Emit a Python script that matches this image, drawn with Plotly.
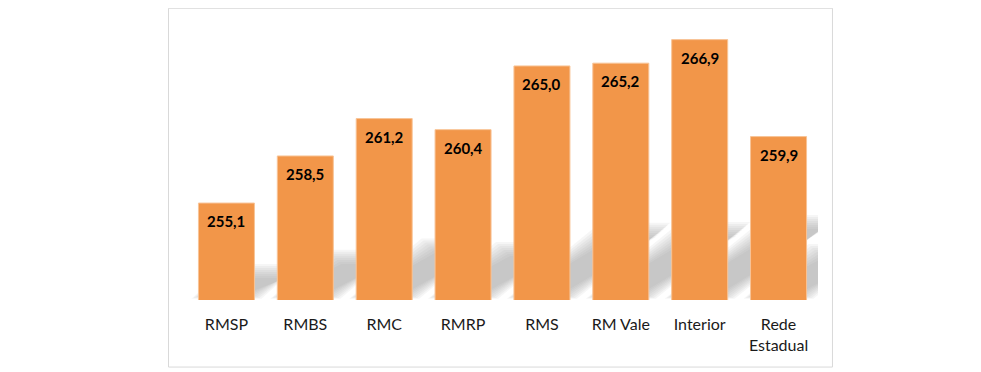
import plotly.graph_objects as go

categories = ["RMSP", "RMBS", "RMC", "RMRP", "RMS", "RM Vale", "Interior", "Rede Estadual"]
tick_labels = ["RMSP", "RMBS", "RMC", "RMRP", "RMS", "RM Vale", "Interior", "Rede<br>Estadual"]
values = [255.1, 258.5, 261.2, 260.4, 265.0, 265.2, 266.9, 259.9]
value_labels = ["255,1", "258,5", "261,2", "260,4", "265,0", "265,2", "266,9", "259,9"]

BAR_COLOR = "#F29649"
Y_MIN, Y_MAX = 248.1, 268.1

# page has an 8px body margin, so the figure is drawn 8px in from the window corner
PAGE_OFF = 8
W, H = 981 - PAGE_OFF, 372 - PAGE_OFF
M_L, M_R, M_T, M_B = 186.5 - PAGE_OFF, 162.5, 23.2 - PAGE_OFF, 72
plot_w = W - M_L - M_R
plot_h = H - M_T - M_B
px_per_cat = plot_w / len(categories)
px_per_unit = plot_h / (Y_MAX - Y_MIN)
bargap = 0.29
half_w = (1 - bargap) / 2

fig = go.Figure()
fig.add_trace(go.Bar(
    x=list(range(len(categories))), y=values,
    marker=dict(color=BAR_COLOR, line=dict(color="#F8C497", width=1)),
    hoverinfo="skip",
))

# soft perspective shadows behind bars
shapes = []
n_layers = 8
for i, v in enumerate(values):
    h_px = (v - Y_MIN) * px_per_unit
    dy_px = 0.30 * h_px
    dx_px = dy_px / 0.75
    for k in range(n_layers):
        e = -7 + 14 * k / (n_layers - 1)  # inflate in px
        xl = i - half_w - e / px_per_cat
        xr = i + half_w + e / px_per_cat
        yb = Y_MIN + (4 - e * 0.4) / px_per_unit
        yt = Y_MIN + (dy_px + e) / px_per_unit
        sh = dx_px / px_per_cat
        path = f"M {xl},{yb} L {xr},{yb} L {xr + sh},{yt} L {xl + sh},{yt} Z"
        shapes.append(dict(type="path", path=path, xref="x", yref="y",
                           fillcolor="rgba(150,150,150,0.085)", line=dict(width=0),
                           layer="below"))

# outer frame (page pixel coordinates -> paper)
box_x0 = (168 - PAGE_OFF - M_L) / plot_w
box_x1 = (833 - PAGE_OFF - M_L) / plot_w
box_y1 = (M_T + plot_h - 0.5) / plot_h
box_y0 = (M_T + plot_h - (367 - PAGE_OFF)) / plot_h
shapes.append(dict(type="rect", xref="paper", yref="paper",
                   x0=box_x0, x1=box_x1, y0=box_y0, y1=box_y1,
                   line=dict(color="#D9D9D9", width=1), fillcolor="rgba(0,0,0,0)",
                   layer="below"))

annotations = []
for i, (v, t) in enumerate(zip(values, value_labels)):
    annotations.append(dict(x=i, y=v, text=t, showarrow=False, yanchor="middle",
                            yshift=-18, font=dict(family="Lato", size=15, color="#000000",
                                                  weight="bold")))

fig.update_layout(
    width=W, height=H,
    margin=dict(l=M_L, r=M_R, t=M_T, b=M_B, pad=0),
    paper_bgcolor="white", plot_bgcolor="white",
    bargap=bargap,
    showlegend=False,
    shapes=shapes,
    annotations=annotations,
    font=dict(family="Lato", size=16, color="#000000"),
    xaxis=dict(range=[-0.5, len(categories) - 0.5], tickmode="array",
               tickvals=list(range(len(categories))), ticktext=tick_labels,
               showgrid=False, zeroline=False, showline=False, ticks="",
               ticklabelstandoff=13, tickfont=dict(family="Lato", size=16, color="#1a1a1a")),
    yaxis=dict(range=[Y_MIN, Y_MAX], visible=False, showgrid=False, zeroline=False),
)

fig.write_html("out.html")
